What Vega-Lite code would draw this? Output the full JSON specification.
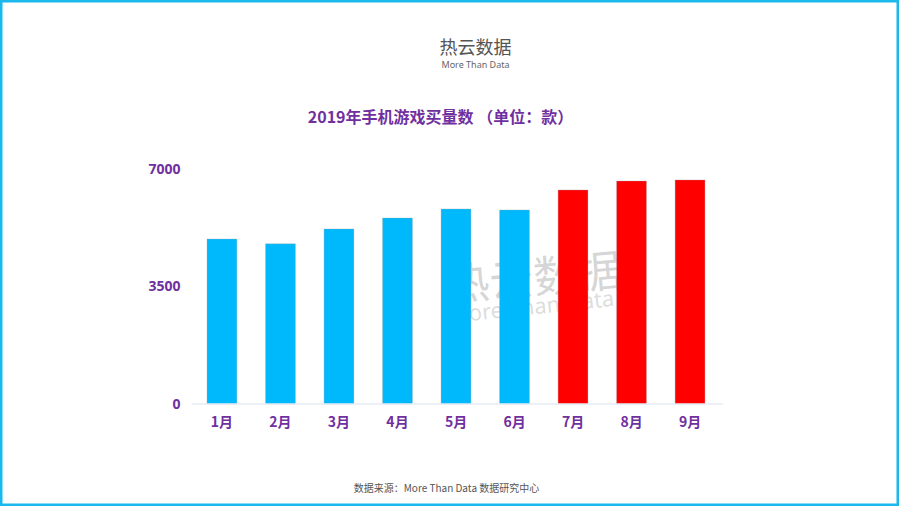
{
  "$schema": "https://vega.github.io/schema/vega-lite/v6.json",
  "width": 899,
  "height": 506,
  "autosize": "none",
  "padding": 0,
  "background": "#ffffff",
  "config": {
    "view": {"stroke": "#1BB8EE", "strokeWidth": 5},
    "font": "Noto Sans CJK SC"
  },
  "title": {
    "text": "热云数据",
    "subtitle": "More Than Data",
    "anchor": "middle",
    "orient": "top",
    "frame": "group",
    "offset": -70,
    "dx": 26,
    "font": "Noto Sans CJK SC",
    "fontSize": 18,
    "fontWeight": "normal",
    "color": "#555555",
    "subtitleFont": "Noto Sans",
    "subtitleFontSize": 9,
    "subtitleColor": "#666666",
    "subtitlePadding": 3
  },
  "resolve": {"axis": {"x": "independent", "y": "independent"}},
  "data": {
    "values": [
      {"month": "1月", "count": 4915, "group": "h1"},
      {"month": "2月", "count": 4770, "group": "h1"},
      {"month": "3月", "count": 5215, "group": "h1"},
      {"month": "4月", "count": 5540, "group": "h1"},
      {"month": "5月", "count": 5810, "group": "h1"},
      {"month": "6月", "count": 5780, "group": "h1"},
      {"month": "7月", "count": 6375, "group": "q3"},
      {"month": "8月", "count": 6640, "group": "q3"},
      {"month": "9月", "count": 6675, "group": "q3"}
    ]
  },
  "layer": [
    {
      "mark": {"type": "bar", "stroke": "#999999", "strokeWidth": 0.6, "strokeOpacity": 0.5},
      "encoding": {
        "x": {
          "field": "month",
          "type": "nominal",
          "sort": null,
          "scale": {"type": "band", "range": [193, 719], "paddingInner": 0.49, "paddingOuter": 0.24, "round": false},
          "axis": {
            "orient": "bottom",
            "offset": -102,
            "domain": false,
            "ticks": false,
            "labelAngle": 0,
            "labelPadding": 11,
            "labelFont": "Noto Sans CJK SC",
            "labelFontSize": 14,
            "labelFontWeight": "bold",
            "labelColor": "#7030A0",
            "title": "数据来源：More Than Data 数据研究中心",
            "titleX": 446,
            "titleY": 84,
            "titleAlign": "center",
            "titleBaseline": "middle",
            "titleFont": "Noto Sans CJK SC",
            "titleFontSize": 10,
            "titleFontWeight": "normal",
            "titleColor": "#555555"
          }
        },
        "y": {
          "field": "count",
          "type": "quantitative",
          "scale": {"domain": [-3038, 12034], "zero": false, "nice": false},
          "axis": {
            "orient": "left",
            "offset": -182,
            "values": [0, 3500, 7000],
            "format": "d",
            "domain": false,
            "ticks": false,
            "grid": false,
            "labelPadding": 2,
            "labelFont": "Noto Sans",
            "labelFontSize": 14,
            "labelFontWeight": "bold",
            "labelColor": "#7030A0",
            "title": "2019年手机游戏买量数 （单位：款）",
            "titleAngle": 0,
            "titleX": 258,
            "titleY": 117,
            "titleAlign": "center",
            "titleBaseline": "middle",
            "titleFont": "Noto Sans CJK SC",
            "titleFontSize": 16,
            "titleFontWeight": "bold",
            "titleColor": "#7030A0"
          }
        },
        "y2": {"datum": 0},
        "color": {
          "field": "group",
          "type": "nominal",
          "scale": {"domain": ["h1", "q3"], "range": ["#00B9FC", "#FF0000"]},
          "legend": null
        }
      }
    },
    {
      "data": {"values": [{"from": "1月", "to": "9月", "base": 0}]},
      "mark": {"type": "rule", "color": "#E6EDF5", "strokeWidth": 1.5},
      "encoding": {
        "x": {"field": "from", "type": "nominal", "bandPosition": -0.5, "axis": null},
        "x2": {"field": "to", "bandPosition": 1.6},
        "y": {"field": "base", "type": "quantitative", "axis": null}
      }
    },
    {
      "mark": {"type": "point", "opacity": 0},
      "encoding": {
        "x": {
          "field": "month",
          "type": "nominal",
          "sort": null,
          "axis": {
            "orient": "top",
            "labels": false,
            "ticks": false,
            "domain": false,
            "grid": false,
            "title": "热云数据",
            "titleX": 533,
            "titleY": 280,
            "titleAngle": -5,
            "titleAlign": "center",
            "titleBaseline": "middle",
            "titleFont": "Noto Sans CJK SC",
            "titleFontSize": 44,
            "titleFontWeight": "normal",
            "titleColor": "#888888",
            "titleOpacity": 0.35
          }
        },
        "y": {
          "field": "count",
          "type": "quantitative",
          "axis": {
            "orient": "right",
            "labels": false,
            "ticks": false,
            "domain": false,
            "grid": false,
            "title": "More Than Data",
            "titleX": -368,
            "titleY": 307,
            "titleAngle": -6,
            "titleAlign": "center",
            "titleBaseline": "middle",
            "titleFont": "Noto Sans",
            "titleFontSize": 22,
            "titleFontWeight": "normal",
            "titleColor": "#888888",
            "titleOpacity": 0.3
          }
        }
      }
    }
  ]
}
